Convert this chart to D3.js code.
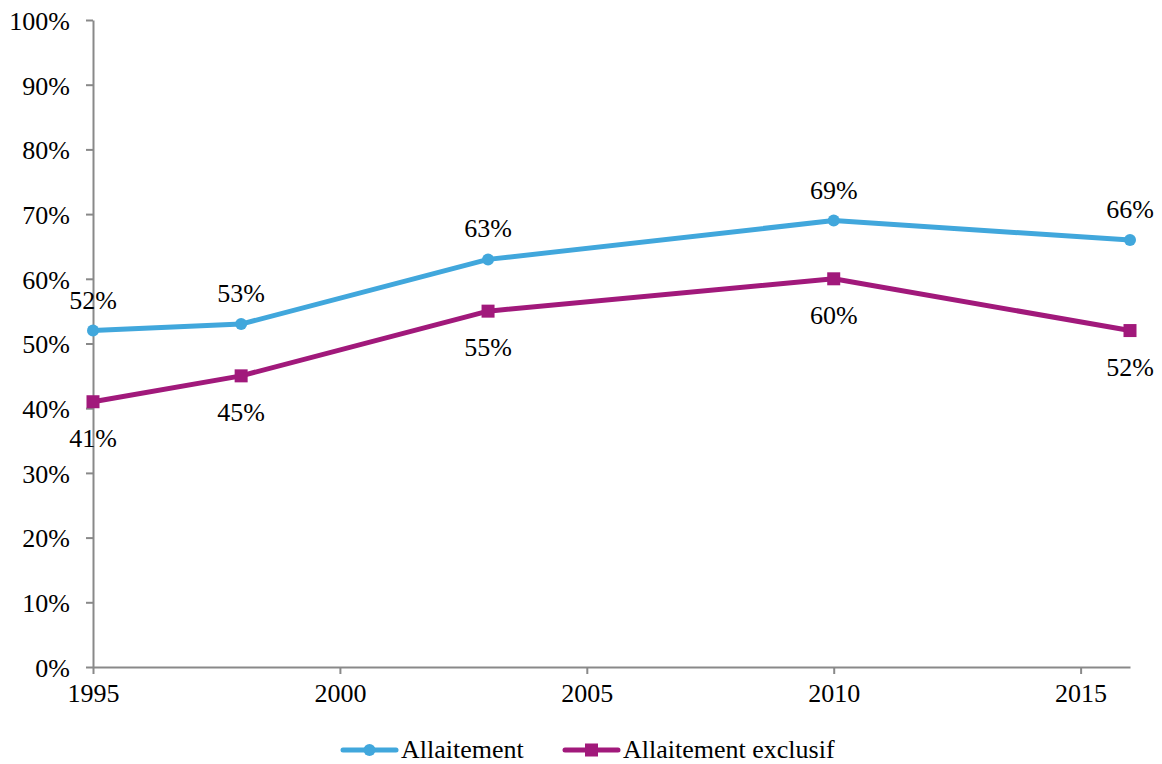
<!DOCTYPE html>
<html>
  <head>
    <meta charset="utf-8">
    <title>Allaitement</title>
    <script src="https://d3js.org/d3.v7.min.js"></script>
    <style>
      body { margin: 0; background: #fff; }
      text { font-family: "Liberation Serif", "Times New Roman", serif; fill: #000; }
      .axis path, .axis line { stroke: #898989; stroke-width: 2; }
      .axis text { font-size: 26px; font-family: "Liberation Serif", "Times New Roman", serif; }
      .label { font-size: 26px; }
      .legend text { font-size: 26px; }
    </style>
  </head>
  <body>
    <svg id="chart" width="1162" height="764"></svg>
    <script>
      // data
      const years = [1995, 1998, 2003, 2010, 2016];
      const allaitement = [52, 53, 63, 69, 66];
      const exclusif = [41, 45, 55, 60, 52];
      const yTicks = [0, 10, 20, 30, 40, 50, 60, 70, 80, 90, 100];
      const xTicks = [1995, 2000, 2005, 2010, 2015];
      const seriesNames = ["Allaitement", "Allaitement exclusif"];
      const colours = ["#41a7dc", "#a1197b"];

      const margin = { top: 20, right: 32, bottom: 97, left: 93 };
      const width = 1162, height = 764;
      const chart = d3.select("#chart");

      const x = d3.scaleLinear()
        .domain([1995, 2016])
        .range([margin.left, width - margin.right]);
      const y = d3.scaleLinear()
        .domain([0, 100])
        .range([height - margin.bottom, margin.top]);

      const xAxis = d3.axisBottom(x)
        .tickValues(xTicks)
        .tickFormat(d3.format("d"))
        .tickSizeInner(7)
        .tickSizeOuter(0)
        .tickPadding(10);
      const yAxis = d3.axisLeft(y)
        .tickValues(yTicks)
        .tickFormat(function(d) { return d + "%"; })
        .tickSizeInner(7)
        .tickSizeOuter(0)
        .tickPadding(16);

      chart.append("g")
        .attr("class", "axis")
        .attr("transform", "translate(0, " + y(0) + ")")
        .call(xAxis);
      chart.append("g")
        .attr("class", "axis")
        .attr("transform", "translate(" + margin.left + ", 0)")
        .call(yAxis)
        .selectAll("text").attr("dy", "0.36em");
      chart.selectAll(".axis .domain").attr("stroke", "#898989");

      const line = d3.line()
        .x(function(d) { return x(d.year); })
        .y(function(d) { return y(d.value); });

      const series = [allaitement, exclusif].map(function(vals) {
        return vals.map(function(v, i) { return { year: years[i], value: v }; });
      });

      series.forEach(function(s, k) {
        chart.append("path")
          .attr("d", line(s))
          .attr("fill", "none")
          .attr("stroke", colours[k])
          .attr("stroke-width", 5)
          .attr("stroke-linejoin", "round");
      });

      // markers
      chart.selectAll(".dot")
        .data(series[0])
        .enter().append("circle")
          .attr("cx", function(d) { return x(d.year); })
          .attr("cy", function(d) { return y(d.value); })
          .attr("r", 6)
          .attr("fill", colours[0]);
      chart.selectAll(".sq")
        .data(series[1])
        .enter().append("rect")
          .attr("x", function(d) { return x(d.year) - 6.5; })
          .attr("y", function(d) { return y(d.value) - 6.5; })
          .attr("width", 13)
          .attr("height", 13)
          .attr("fill", colours[1]);

      // data labels
      chart.selectAll(".lab1")
        .data(series[0])
        .enter().append("text")
          .attr("class", "label")
          .attr("x", function(d) { return x(d.year); })
          .attr("y", function(d) { return y(d.value) - 22; })
          .attr("text-anchor", "middle")
          .text(function(d) { return d.value + "%"; });
      chart.selectAll(".lab2")
        .data(series[1])
        .enter().append("text")
          .attr("class", "label")
          .attr("x", function(d) { return x(d.year); })
          .attr("y", function(d) { return y(d.value) + 45; })
          .attr("text-anchor", "middle")
          .text(function(d) { return d.value + "%"; });

      // legend
      const legend = chart.append("g").attr("class", "legend");
      const legendX = [343, 565];
      seriesNames.forEach(function(name, k) {
        const g = legend.append("g").attr("transform", "translate(" + legendX[k] + ", 750)");
        g.append("line")
          .attr("x1", 0).attr("x2", 53)
          .attr("stroke", colours[k])
          .attr("stroke-width", 5)
          .attr("stroke-linecap", "round");
        if (k === 0) {
          g.append("circle").attr("cx", 26.5).attr("r", 6).attr("fill", colours[k]);
        } else {
          g.append("rect").attr("x", 20).attr("y", -6.5).attr("width", 13).attr("height", 13).attr("fill", colours[k]);
        }
        g.append("text")
          .attr("x", 58)
          .attr("y", 8)
          .text(name);
      });
    </script>
  </body>
</html>
